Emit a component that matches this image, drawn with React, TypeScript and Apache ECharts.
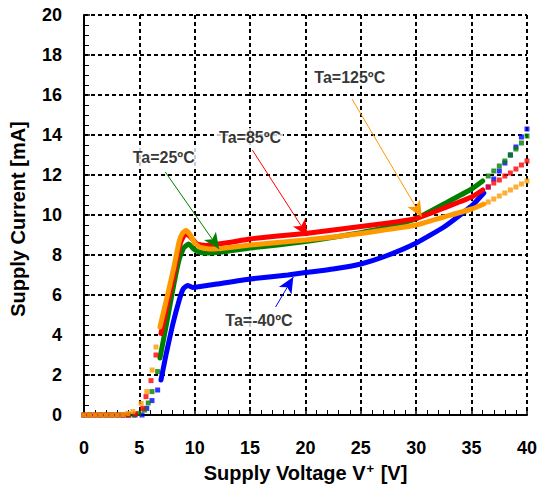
import React, { useEffect, useRef } from "react";
import * as echarts from "echarts";

// Supply voltage [V] vs supply current [mA]; "Dot" arrays are individual measured points (squares)
const blueDotLow = [[0, 0], [0.5, 0], [1, 0], [1.5, 0], [2, 0], [2.5, 0], [3, 0], [3.5, 0], [4, 0], [4.6, 0], [5.24, 0], [5.67, 0.33], [6.14, 0.72], [6.65, 1.25]];
const blueSolid = [[6.95, 1.75], [7.4, 3.0], [8.0, 4.5], [8.6, 5.75], [8.95, 6.3], [9.35, 6.48], [9.8, 6.38], [10.2, 6.4], [12, 6.55], [15, 6.8], [18.4, 7.0], [20, 7.12], [22.5, 7.3], [25, 7.55], [27.5, 8.0], [30, 8.6], [32.5, 9.4], [35, 10.45], [36.1, 11.1]];
const blueDotHigh = [[36.5, 11.4], [37, 11.8], [37.5, 12.2], [38, 12.6], [38.5, 13.0], [39, 13.4], [39.5, 13.9], [40, 14.3]];

const greenDotLow = [[0, 0], [0.5, 0], [1, 0], [1.5, 0], [2, 0], [2.5, 0], [3, 0], [3.5, 0], [4, 0], [4.5, 0], [4.95, 0.08], [5.46, 0.25], [5.8, 0.6], [6.14, 1.17], [6.65, 2.17]];
const greenSolid = [[6.86, 2.85], [7.5, 4.7], [8.1, 6.5], [8.6, 7.8], [9.0, 8.35], [9.45, 8.55], [9.9, 8.3], [10.4, 8.15], [11, 8.1], [12.8, 8.18], [15, 8.35], [17.5, 8.5], [20, 8.68], [22.5, 8.88], [25, 9.12], [27.5, 9.4], [30, 9.82], [32.5, 10.55], [35, 11.3], [36, 11.7]];
const greenDotHigh = [[36.5, 11.95], [37, 12.2], [37.5, 12.45], [38, 12.7], [38.5, 13.0], [39, 13.3], [39.5, 13.6], [40, 13.95]];

const redDotLow = [[0, 0], [0.5, 0], [1, 0], [1.5, 0], [2, 0], [2.5, 0], [3, 0], [3.5, 0], [4, 0], [4.65, 0.05], [5.3, 0.33], [5.6, 0.92], [6.05, 1.72], [6.5, 3.0]];
const redSolid = [[6.95, 4.08], [7.5, 5.5], [8.1, 7.0], [8.6, 8.4], [9.0, 8.95], [9.3, 9.05], [9.7, 8.85], [10.2, 8.55], [11, 8.48], [12.8, 8.6], [15, 8.8], [17.5, 8.95], [20, 9.08], [22.5, 9.25], [25, 9.42], [27.5, 9.6], [30, 9.83], [32.5, 10.35], [35, 10.9], [36, 11.25]];
const redDotHigh = [[36.5, 11.4], [37, 11.6], [37.5, 11.75], [38, 11.95], [38.5, 12.1], [39, 12.3], [39.5, 12.5], [40, 12.7]];

const orangeDotLow = [[0, 0], [0.5, 0], [1, 0], [1.5, 0], [2, 0], [2.5, 0], [3, 0], [3.5, 0.02], [3.95, 0.08], [4.41, 0.17], [5.16, 0.58], [5.67, 1.17], [6.15, 2.25], [6.5, 3.4]];
const orangeSolid = [[6.86, 4.4], [7.5, 5.9], [8.1, 7.35], [8.6, 8.7], [8.9, 9.1], [9.2, 9.22], [9.6, 9.0], [10.0, 8.6], [10.5, 8.38], [11.5, 8.3], [12.8, 8.35], [15, 8.5], [17.5, 8.62], [20, 8.75], [22.5, 8.9], [25, 9.08], [27.5, 9.28], [30, 9.5], [32.5, 9.9], [35, 10.3], [36.1, 10.55]];
const orangeDotHigh = [[36.5, 10.65], [37, 10.8], [37.5, 10.95], [38, 11.1], [38.5, 11.25], [39, 11.4], [39.5, 11.55], [40, 11.7]];

// annotations: label text, label position [V, mA], arrow start, arrow end
const annLabels = ["Ta=25ºC", "Ta=85ºC", "Ta=125ºC", "Ta=-40ºC"];
const annLabelPos = [[7.2, 12.9], [15.0, 13.9], [24.0, 16.9], [15.8, 4.75]];
const annArrowFrom = [[7.34, 12.15], [15.2, 13.25], [24.2, 15.8], [17.3, 5.4]];
const annArrowTo = [[12.2, 8.3], [20.2, 8.95], [30.5, 9.9], [18.9, 6.9]];
const annColors = ["#008000", "#ff0000", "#ff9900", "#0000ff"];

const xTicks = [0, 5, 10, 15, 20, 25, 30, 35, 40];
const yTicks = [0, 2, 4, 6, 8, 10, 12, 14, 16, 18, 20];

const BLUE = "#0000ff";
const GREEN = "#008000";
const RED = "#ff0000";
const ORANGE = "#ff9900";
const FONT = "Liberation Sans";

function solid(data: number[][], color: string) {
  return {
    type: "line",
    data,
    showSymbol: false,
    symbol: "none",
    smooth: 0.15,
    lineStyle: { color, width: 5, cap: "round", join: "round" },
    silent: true,
    z: 3,
  };
}
function dotted(data: number[][], color: string) {
  return {
    type: "scatter",
    data,
    symbol: "rect",
    symbolSize: [5, 5],
    itemStyle: { color },
    silent: true,
    z: 3,
  };
}

export default function App() {
  const ref = useRef<HTMLDivElement>(null);
  useEffect(() => {
    if (!ref.current) return;
    const chart = echarts.init(ref.current, null, { renderer: "svg" });
    const markData = annLabels.map((_, i) => [
      { coord: annArrowFrom[i], symbol: "none", lineStyle: { color: annColors[i], width: 1, type: "solid" } },
      { coord: annArrowTo[i], symbol: "arrow", symbolSize: [11, 16] },
    ]);
    chart.setOption({
      animation: false,
      backgroundColor: "#ffffff",
      grid: { left: 84, right: 9, top: 15, bottom: 79, containLabel: false },
      xAxis: {
        type: "value",
        min: 0,
        max: 40,
        interval: 5,
        name: "Supply Voltage V{sup|+} [V]",
        nameLocation: "middle",
        nameGap: 42,
        nameTextStyle: {
          fontFamily: FONT,
          fontWeight: "bold",
          fontSize: 20,
          color: "#000",
          rich: {
            sup: { fontFamily: FONT, fontWeight: "bold", fontSize: 13, color: "#000", verticalAlign: "top", padding: [0, 1, 9, 1] },
          },
        },
        axisLine: { show: true, onZero: false, lineStyle: { color: "#000", width: 2 } },
        axisTick: { show: true, inside: true, length: 6, lineStyle: { color: "#000", width: 1.5 } },
        minorTick: { show: true, splitNumber: 5, length: 5, lineStyle: { color: "#000", width: 1 } },
        axisLabel: {
          fontFamily: FONT,
          fontWeight: "bold",
          fontSize: 18,
          color: "#000",
          margin: 24,
          formatter: (v: number) => (xTicks.includes(v) ? String(v) : ""),
        },
        splitLine: { show: true, lineStyle: { color: "#000", width: 2, type: [4, 3] } },
      },
      yAxis: {
        type: "value",
        min: 0,
        max: 20,
        interval: 2,
        name: "Supply Current [mA]",
        nameLocation: "middle",
        nameGap: 56,
        nameRotate: 90,
        nameTextStyle: { fontFamily: FONT, fontWeight: "bold", fontSize: 20, color: "#000", padding: [0, 8, 0, 0] },
        axisLine: { show: true, onZero: false, lineStyle: { color: "#000", width: 2 } },
        axisTick: { show: true, inside: true, length: 6, lineStyle: { color: "#000", width: 1.5 } },
        minorTick: { show: true, splitNumber: 4, length: 5, lineStyle: { color: "#000", width: 1 } },
        axisLabel: {
          fontFamily: FONT,
          fontWeight: "bold",
          fontSize: 18,
          color: "#000",
          margin: 22,
          formatter: (v: number) => (yTicks.includes(v) ? String(v) : ""),
        },
        splitLine: { show: true, lineStyle: { color: "#000", width: 2, type: [4, 3] } },
      },
      series: [
        dotted(blueDotLow, BLUE),
        solid(blueSolid, BLUE),
        dotted(blueDotHigh, BLUE),
        dotted(greenDotLow, GREEN),
        solid(greenSolid, GREEN),
        dotted(greenDotHigh, GREEN),
        dotted(redDotLow, RED),
        solid(redSolid, RED),
        dotted(redDotHigh, RED),
        dotted(orangeDotLow, ORANGE),
        solid(orangeSolid, ORANGE),
        dotted(orangeDotHigh, ORANGE),
        {
          type: "scatter",
          data: annLabelPos.map((p, i) => [p[0], p[1], annLabels[i]]),
          symbolSize: 0,
          silent: true,
          z: 8,
          label: {
            show: true,
            position: "inside",
            formatter: (p: any) => p.value[2],
            fontFamily: FONT,
            fontWeight: "bold",
            fontSize: 16,
            color: "#000",
            backgroundColor: "#ffffff",
            padding: [1, 2],
          },
          markLine: {
            silent: true,
            animation: false,
            symbol: ["none", "arrow"],
            label: { show: false },
            lineStyle: { width: 1, type: "solid" },
            data: markData,
            z: 6,
          },
        },
      ],
    });
    return () => chart.dispose();
  }, []);
  return (
    <div
      ref={ref}
      style={{ position: "fixed", left: 0, top: 0, width: 540, height: 494, background: "#fff" }}
    />
  );
}
